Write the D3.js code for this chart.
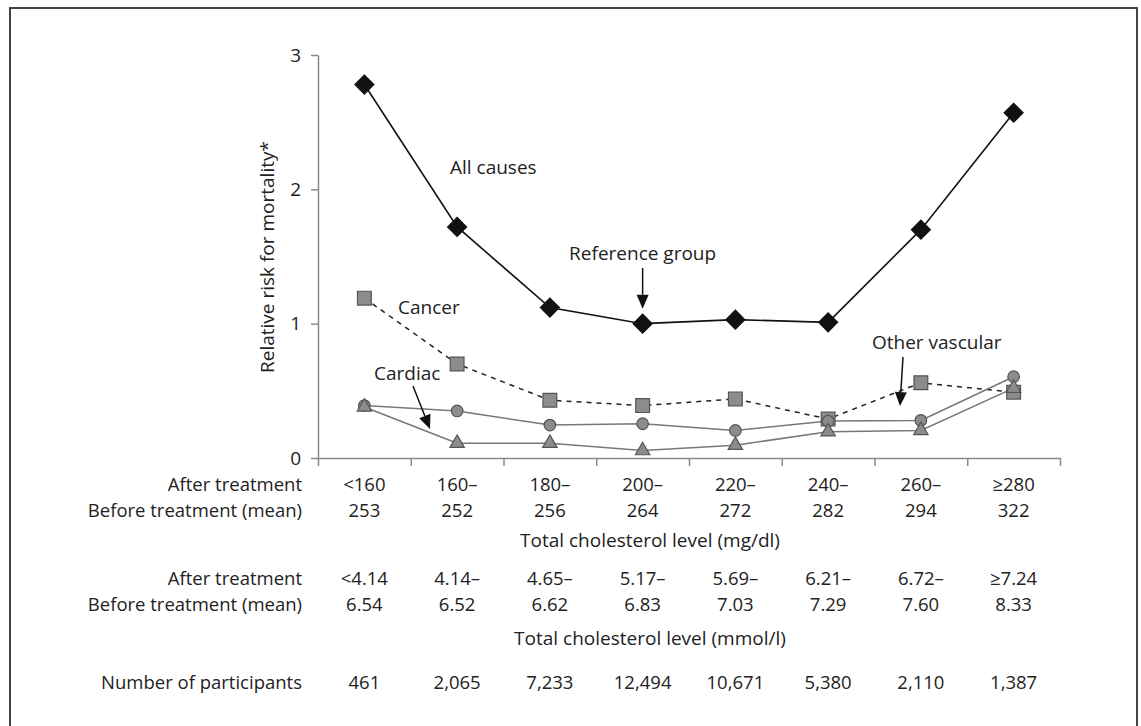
<!DOCTYPE html>
<html><head><meta charset="utf-8">
<script src="https://cdn.jsdelivr.net/npm/d3@7"></script>
<style>
body{margin:0;background:#fff;}
svg text{font-family:"Open Sans",sans-serif;fill:#222;}
</style></head>
<body><svg id="c" width="1141" height="726"></svg>
<script>
const categories = ["<160","160–","180–","200–","220–","240–","260–","≥280"];
const allCauses   = [2.78,1.72,1.12,1.00,1.03,1.01,1.70,2.57];
const cancer      = [1.19,0.70,0.43,0.39,0.44,0.29,0.56,0.49];
const otherCirc   = [0.39,0.35,0.245,0.255,0.205,0.275,0.28,0.605];
const cardiacTri  = [0.38,0.11,0.11,0.055,0.095,0.195,0.205,0.52];
const yTicks = [0,1,2,3];
const mgAfter  = ["<160","160–","180–","200–","220–","240–","260–","≥280"];
const mgBefore = ["253","252","256","264","272","282","294","322"];
const mmAfter  = ["<4.14","4.14–","4.65–","5.17–","5.69–","6.21–","6.72–","≥7.24"];
const mmBefore = ["6.54","6.52","6.62","6.83","7.03","7.29","7.60","8.33"];
const participants = ["461","2,065","7,233","12,494","10,671","5,380","2,110","1,387"];

const svg = d3.select("#c");
const FS = 19, TFS = 18.5;
svg.append("path").attr("d","M10,740 L10,8 L1137,8 L1137,740")
  .attr("fill","none").attr("stroke","#444").attr("stroke-width",2);

const x = d3.scaleBand().domain(categories).range([318,1060]).padding(0);
const xb = d3.scaleLinear().domain([0,8]).range([318,1060]);
const y = d3.scaleLinear().domain([0,3]).range([458,55]);
const cx = c => x(c) + x.bandwidth()/2;

const axisCol = "#8a8a8a";
const ya = svg.append("g").attr("transform","translate(318,0)")
  .call(d3.axisLeft(y).tickValues(yTicks).tickFormat(d3.format("d")).tickSize(7).tickPadding(10).tickSizeOuter(0));
ya.select(".domain").attr("stroke",axisCol).attr("stroke-width",1.5);
ya.selectAll(".tick line").attr("stroke",axisCol).attr("stroke-width",1.5);
ya.selectAll("text").attr("font-size",FS).attr("font-family","Open Sans").attr("fill","#222");
const xa = svg.append("g").attr("transform","translate(0,458)")
  .call(d3.axisBottom(xb).tickValues(d3.range(0,9)).tickSize(8).tickSizeOuter(0).tickFormat(""));
xa.select(".domain").attr("stroke",axisCol).attr("stroke-width",1.5);
xa.selectAll(".tick line").attr("stroke",axisCol).attr("stroke-width",1.5);

svg.append("text").attr("transform","translate(274,257) rotate(-90)")
  .attr("text-anchor","middle").attr("font-size",FS).text("Relative risk for mortality*");

const line = d3.line().x((d,i)=>cx(categories[i])).y(d=>y(d));
const grayFill = "#8c8c8c", grayStroke = "#555";

svg.append("path").datum(cancer).attr("d",line).attr("fill","none")
  .attr("stroke","#222").attr("stroke-width",1.5).attr("stroke-dasharray","5,5");
svg.append("path").datum(otherCirc).attr("d",line).attr("fill","none")
  .attr("stroke","#777").attr("stroke-width",1.5);
svg.append("path").datum(cardiacTri).attr("d",line).attr("fill","none")
  .attr("stroke","#777").attr("stroke-width",1.5);
svg.append("path").datum(allCauses).attr("d",line).attr("fill","none")
  .attr("stroke","#111").attr("stroke-width",1.6);

function marks(data, type, size, fill, stroke, rot){
  svg.append("g").selectAll("path").data(data).join("path")
    .attr("d", d3.symbol().type(type).size(size))
    .attr("transform",(d,i)=>`translate(${cx(categories[i])},${y(d)}) rotate(${rot||0})`)
    .attr("fill",fill).attr("stroke",stroke).attr("stroke-width",1.2);
}
marks(cancer, d3.symbolSquare, 190, grayFill, grayStroke);
marks(otherCirc, d3.symbolCircle, 105, grayFill, grayStroke);
marks(cardiacTri, d3.symbolTriangle, 90, grayFill, grayStroke);
marks(allCauses, d3.symbolSquare, 180, "#111", "#111", 45);

function txt(xp, yp, s, anchor, fs){
  svg.append("text").attr("x",xp).attr("y",yp).attr("font-size",fs||FS)
    .attr("text-anchor",anchor||"start").attr("dominant-baseline","central").text(s);
}
function arrow(x1,y1,x2,y2){
  const ang = Math.atan2(y2-y1,x2-x1), L=14, W=6;
  const bx = x2 - L*Math.cos(ang), by = y2 - L*Math.sin(ang);
  svg.append("line").attr("x1",x1).attr("y1",y1).attr("x2",bx).attr("y2",by)
    .attr("stroke","#111").attr("stroke-width",1.5);
  const px = -Math.sin(ang)*W, py = Math.cos(ang)*W;
  svg.append("path").attr("d",`M${x2},${y2} L${bx+px},${by+py} L${bx-px},${by-py} Z`).attr("fill","#111");
}
txt(450,167,"All causes");
txt(398,307,"Cancer");
txt(374,373,"Cardiac");
arrow(413,386,430,429);
txt(cx("200–"),253,"Reference group","middle");
arrow(cx("200–"),268,cx("200–"),y(1)-15);
txt(872,342,"Other vascular");
arrow(903,357,900,406);

function row(vals, yp, label){
  if(label) txt(302,yp,label,"end",TFS);
  vals.forEach((v,i)=>txt(cx(categories[i]),yp,v,"middle",TFS));
}
row(mgAfter,483,"After treatment");
row(mgBefore,509,"Before treatment (mean)");
txt(650,540,"Total cholesterol level (mg/dl)","middle");
row(mmAfter,577,"After treatment");
row(mmBefore,603,"Before treatment (mean)");
txt(650,638,"Total cholesterol level (mmol/l)","middle");
row(participants,681,"Number of participants");
</script></body></html>
